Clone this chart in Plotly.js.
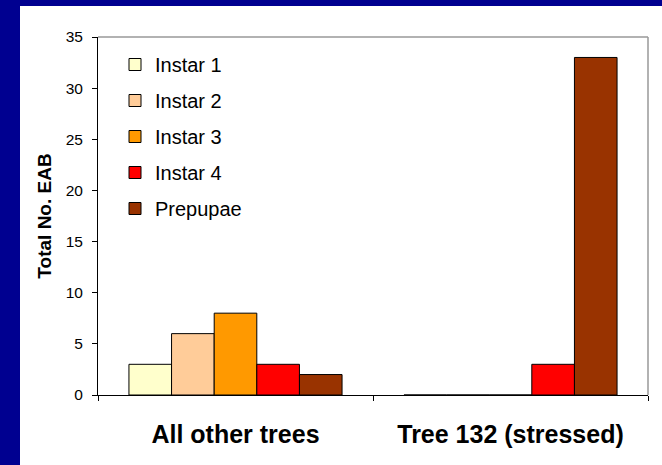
<!DOCTYPE html>
<html>
<head>
<meta charset="utf-8">
<script src="https://cdn.plot.ly/plotly-3.0.1.min.js"></script>
<style>html,body{margin:0;padding:0;background:#fff;}#chart{width:662px;height:465px;}</style>
</head>
<body>
<div id="chart"></div>
<script>
const categories = ["All other trees", "Tree 132 (stressed)"];
const seriesNames = ["Instar 1", "Instar 2", "Instar 3", "Instar 4", "Prepupae"];
const instar1 = [3, 0];
const instar2 = [6, 0];
const instar3 = [8, 0];
const instar4 = [3, 3];
const prepupae = [2, 33];
const seriesValues = [instar1, instar2, instar3, instar4, prepupae];
const seriesColors = ["#FFFFCC", "#FFCC99", "#FF9900", "#FF0000", "#993300"];
const yTickVals = [0, 5, 10, 15, 20, 25, 30, 35];

const FONT = "Arial, 'Liberation Sans', sans-serif";

const traces = seriesNames.map((name, i) => ({
  type: "bar",
  name: name,
  x: categories,
  y: seriesValues[i],
  legendgroup: "g" + i,
  marker: { color: seriesColors[i], line: { color: "#000000", width: 1 } },
  hoverinfo: "skip"
}));

const W = 662, H = 465;
const L = 98, R = 14, T = 37, B = 70;
const pw = W - L - R, ph = H - T - B;
const px = v => (v - L) / pw;
const py = v => (H - B - v) / ph;

const layout = {
  width: W, height: H,
  margin: { l: L, r: R, t: T, b: B, pad: 0 },
  paper_bgcolor: "#000090",
  plot_bgcolor: "#ffffff",
  font: { family: FONT, color: "#000000", size: 15 },
  barmode: "group",
  bargap: 0.225,
  bargroupgap: 0,
  showlegend: true,
  legend: {
    x: px(115), y: py(45), xanchor: "left", yanchor: "top",
    bgcolor: "rgba(0,0,0,0)",
    font: { family: FONT, size: 20, color: "#000000" },
    traceorder: "grouped",
    tracegroupgap: 7,
    itemwidth: 30
  },
  xaxis: {
    type: "category",
    showline: true, linecolor: "#000000", linewidth: 1,
    ticks: "outside", tickson: "boundaries", ticklen: 5, tickcolor: "#000000",
    tickfont: { family: FONT, size: 25, color: "#000000", weight: "bold" },
    ticklabelstandoff: 17,
    showgrid: false, zeroline: false,
    fixedrange: true
  },
  yaxis: {
    range: [0, 35],
    tickvals: yTickVals,
    showline: true, linecolor: "#000000", linewidth: 1,
    ticks: "outside", ticklen: 5, tickcolor: "#000000",
    tickfont: { family: FONT, size: 15.5, color: "#000000" },
    ticklabelstandoff: 6,
    showgrid: false, zeroline: false,
    title: { text: "<b>Total No. EAB</b>", font: { family: FONT, size: 19, color: "#000000" }, standoff: 9 },
    fixedrange: true
  },
  shapes: [
    { type: "rect", xref: "paper", yref: "paper", layer: "below",
      x0: px(20), x1: px(W + 5), y0: py(6), y1: py(H + 5),
      fillcolor: "#ffffff", line: { width: 0 } },
    { type: "line", xref: "paper", yref: "paper", layer: "above",
      x0: 0, x1: 1, y0: 1, y1: 1, line: { color: "#999999", width: 1.5 } },
    { type: "line", xref: "paper", yref: "paper", layer: "above",
      x0: 1, x1: 1, y0: 0, y1: 1, line: { color: "#999999", width: 1.5 } }
  ]
};

Plotly.newPlot("chart", traces, layout, { displayModeBar: false, staticPlot: true });
</script>
</body>
</html>
